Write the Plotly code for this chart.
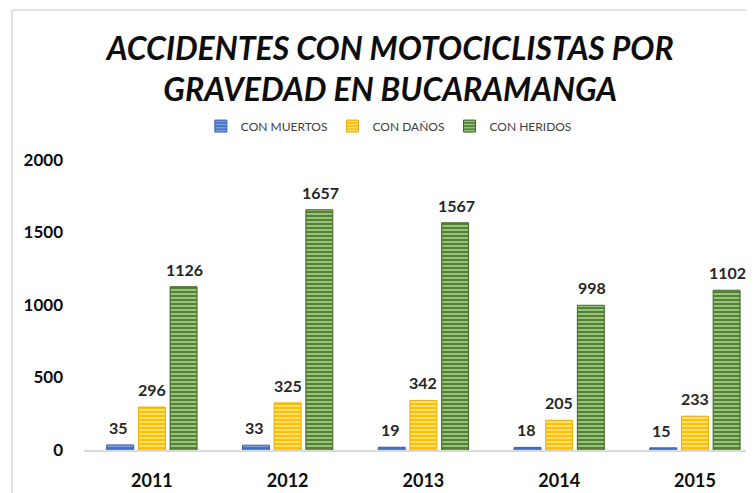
import plotly.graph_objects as go

years = ["2011", "2012", "2013", "2014", "2015"]
muertos = [35, 33, 19, 18, 15]
danos = [296, 325, 342, 205, 233]
heridos = [1126, 1657, 1567, 998, 1102]
series_names = ["CON MUERTOS", "CON DAÑOS", "CON HERIDOS"]

styles = [
    dict(bg="#4472C4", fg="#8FAADC", line="#3A62AA"),
    dict(bg="#FFC000", fg="#FFE699", line="#E6AD00"),
    dict(bg="#548235", fg="#A9D18E", line="#3F6328"),
]

fig = go.Figure()
for name, vals, st in zip(series_names, [muertos, danos, heridos], styles):
    fig.add_trace(go.Bar(
        x=years, y=vals, name=name,
        marker=dict(
            color=st["bg"],
            line=dict(color=st["line"], width=1),
            pattern=dict(shape="-", fillmode="replace", bgcolor=st["bg"],
                         fgcolor=st["fg"], size=4, solidity=0.4),
        ),
    ))

# value labels (category index positions on the category axis)
offsets = [-33, 0, 33]
for vals, dx in zip([muertos, danos, heridos], offsets):
    for i, v in enumerate(vals):
        fig.add_annotation(x=i, y=v, text=f"<b>{v}</b>", showarrow=False,
                           xref="x", yref="y", xanchor="center", yanchor="bottom",
                           xshift=dx, yshift=6,
                           font=dict(family="Lato", size=16, color="#262626"))

# frame lines (left and top)
fig.add_shape(type="line", xref="paper", yref="paper", x0=-0.1075, x1=-0.1075,
              y0=-0.3, y1=1.517, line=dict(color="#D9D9D9", width=1.5))
fig.add_shape(type="line", xref="paper", yref="paper", x0=-0.1075, x1=1.05,
              y0=1.517, y1=1.517, line=dict(color="#D9D9D9", width=1.5))

fig.update_layout(
    width=746, height=485,
    margin=dict(l=76, r=0, t=152, b=43),
    paper_bgcolor="white", plot_bgcolor="white",
    barmode="group", bargap=0.3, bargroupgap=0.15,
    title=dict(text="ACCIDENTES CON MOTOCICLISTAS POR<br>GRAVEDAD EN BUCARAMANGA",
               x=0.457, xref="paper", xanchor="center", yref="container", y=0.893, yanchor="middle",
               font=dict(family="Lato", size=32, color="#0D0D0D", weight="bold", style="italic")),
    legend=dict(orientation="h", x=0.455, xanchor="center", y=1.117, yanchor="middle",
                font=dict(family="Lato", size=12, color="#404040"),
                itemwidth=30, tracegroupgap=0, traceorder="normal"),
    showlegend=True,
    xaxis=dict(type="category", range=[-0.5, 4.435], showline=True, linecolor="#D9D9D9", linewidth=1.5,
               showgrid=False, ticks="", ticklabelstandoff=14,
               tickfont=dict(family="Lato", size=18, color="#0D0D0D", weight="bold")),
    yaxis=dict(range=[0, 2000], tickvals=[0, 500, 1000, 1500, 2000], showgrid=False,
               showline=False, zeroline=False, ticks="", ticklabelstandoff=20,
               tickfont=dict(family="Lato", size=17, color="#0D0D0D", weight="bold")),
)

fig.write_html("out.html")
